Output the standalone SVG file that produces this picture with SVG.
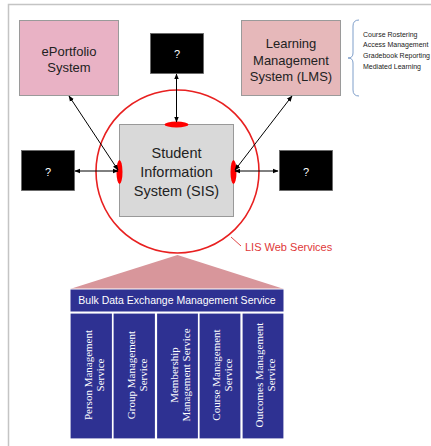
<svg xmlns="http://www.w3.org/2000/svg" width="431" height="446" viewBox="0 0 431 446">
<defs>
<marker id="ah" viewBox="0 0 10 10" refX="9" refY="5" markerWidth="6" markerHeight="6" orient="auto-start-reverse">
<path d="M0,1 L10,5 L0,9 z" fill="#000"/>
</marker>
<style>
.sys{stroke:#9a9a9a;stroke-width:1}
.lbl{font-family:"Liberation Sans",Arial,sans-serif;fill:#222;text-anchor:middle}
.q{fill:#000;stroke:#666;stroke-width:0.8}
.qt{font-family:"Liberation Sans",Arial,sans-serif;fill:#fff;font-size:11px;text-anchor:middle}
.con{stroke:#000;stroke-width:1;fill:none;marker-start:url(#ah);marker-end:url(#ah)}
.col{fill:#2e3192;stroke:#fff;stroke-width:1.2}
.ct{font-family:"Liberation Serif","Times New Roman",serif;fill:#fff;font-size:11px;text-anchor:middle}
.bt{font-family:"Liberation Sans",Arial,sans-serif;font-size:7px;fill:#222}
</style>
</defs>
<rect width="431" height="446" fill="#fff"/>
<rect x="8.5" y="4.5" width="440" height="460" fill="none" stroke="#c4c4c4" stroke-width="1.5"/>

<g id="eportfolio">
<rect class="sys" x="19.5" y="20.5" width="99" height="75" fill="#e9b2c5"/>
<text class="lbl" x="69" y="56" font-size="13">ePortfolio</text>
<text class="lbl" x="69" y="72" font-size="13">System</text>
</g>

<g id="q-top">
<rect class="q" x="150.5" y="33.5" width="53" height="40"/>
<text class="qt" x="177" y="58">?</text>
</g>

<g id="lms">
<rect class="sys" x="241.5" y="20.5" width="99" height="75" fill="#e6b8ba"/>
<text class="lbl" x="291" y="48" font-size="13">Learning</text>
<text class="lbl" x="291" y="65" font-size="13">Management</text>
<text class="lbl" x="291" y="81" font-size="13">System (LMS)</text>
</g>

<g id="lms-functions">
<path d="M359,20 Q353,20 353,26 L353,53 Q353,58 348,58 Q353,58 353,63 L353,90 Q353,96 359,96" fill="none" stroke="#7f9fca" stroke-width="1"/>
<text class="bt" x="363" y="37">Course Rostering</text>
<text class="bt" x="363" y="47">Access Management</text>
<text class="bt" x="363" y="58">Gradebook Reporting</text>
<text class="bt" x="363" y="69">Mediated Learning</text>
</g>

<g id="lis-web-services">
<circle cx="177.5" cy="171.5" r="81.5" fill="none" stroke="#e82020" stroke-width="1.6"/>
<line x1="231" y1="237" x2="241" y2="246" stroke="#e04848" stroke-width="1"/>
<text x="245" y="251" font-family="'Liberation Sans',Arial,sans-serif" font-size="11" fill="#e03838">LIS Web Services</text>
</g>

<g id="sis">
<rect x="119.5" y="124.5" width="114" height="92" fill="#d9d9d9" stroke="#999" stroke-width="1"/>
<text class="lbl" x="176.5" y="158" font-size="14.5">Student</text>
<text class="lbl" x="176.5" y="177" font-size="14.5">Information</text>
<text class="lbl" x="176.5" y="196" font-size="14.5">System (SIS)</text>
<ellipse cx="176.5" cy="124.5" rx="12" ry="3" fill="#f00"/>
<ellipse cx="119.5" cy="172" rx="3" ry="12" fill="#f00"/>
<ellipse cx="233.5" cy="172" rx="3" ry="12" fill="#f00"/>
</g>

<g id="q-left">
<rect class="q" x="21.5" y="150.5" width="53" height="40"/>
<text class="qt" x="48" y="176">?</text>
</g>

<g id="q-right">
<rect class="q" x="279.5" y="150.5" width="53" height="40"/>
<text class="qt" x="306" y="176">?</text>
</g>

<g id="connectors">
<line class="con" x1="176.5" y1="74" x2="176.5" y2="122"/>
<line class="con" x1="75" y1="171" x2="118" y2="171"/>
<line class="con" x1="235" y1="171" x2="278" y2="171"/>
<line class="con" x1="69" y1="96" x2="118" y2="170"/>
<line class="con" x1="292" y1="96" x2="235" y2="170"/>
</g>

<g id="roof">
<polygon points="177.5,255 70,289 284,289" fill="#d8969b"/>
</g>

<g id="bulk">
<rect x="70" y="289" width="214" height="23" fill="#2e3192" stroke="#fff" stroke-width="1"/>
<text x="177" y="304" font-family="'Liberation Sans',Arial,sans-serif" font-size="10.5" fill="#fff" text-anchor="middle">Bulk Data Exchange Management Service</text>
</g>

<g id="person">
<rect class="col" x="70" y="313" width="42.5" height="126"/>
<text class="ct" transform="translate(91.5,375) rotate(-90)"><tspan x="0" y="0">Person Management</tspan><tspan x="0" y="12">Service</tspan></text>
</g>
<g id="group">
<rect class="col" x="113" y="313" width="42.5" height="126"/>
<text class="ct" transform="translate(134.5,375) rotate(-90)"><tspan x="0" y="0">Group Management</tspan><tspan x="0" y="12">Service</tspan></text>
</g>
<g id="membership">
<rect class="col" x="156.5" y="313" width="42" height="126"/>
<text class="ct" transform="translate(177.5,375) rotate(-90)"><tspan x="0" y="0">Membership</tspan><tspan x="0" y="12">Management Service</tspan></text>
</g>
<g id="course">
<rect class="col" x="199" y="313" width="42" height="126"/>
<text class="ct" transform="translate(220,375) rotate(-90)"><tspan x="0" y="0">Course Management</tspan><tspan x="0" y="12">Service</tspan></text>
</g>
<g id="outcomes">
<rect class="col" x="242" y="313" width="42" height="126"/>
<text class="ct" transform="translate(263,375) rotate(-90)"><tspan x="0" y="0">Outcomes Management</tspan><tspan x="0" y="12">Service</tspan></text>
</g>
</svg>
